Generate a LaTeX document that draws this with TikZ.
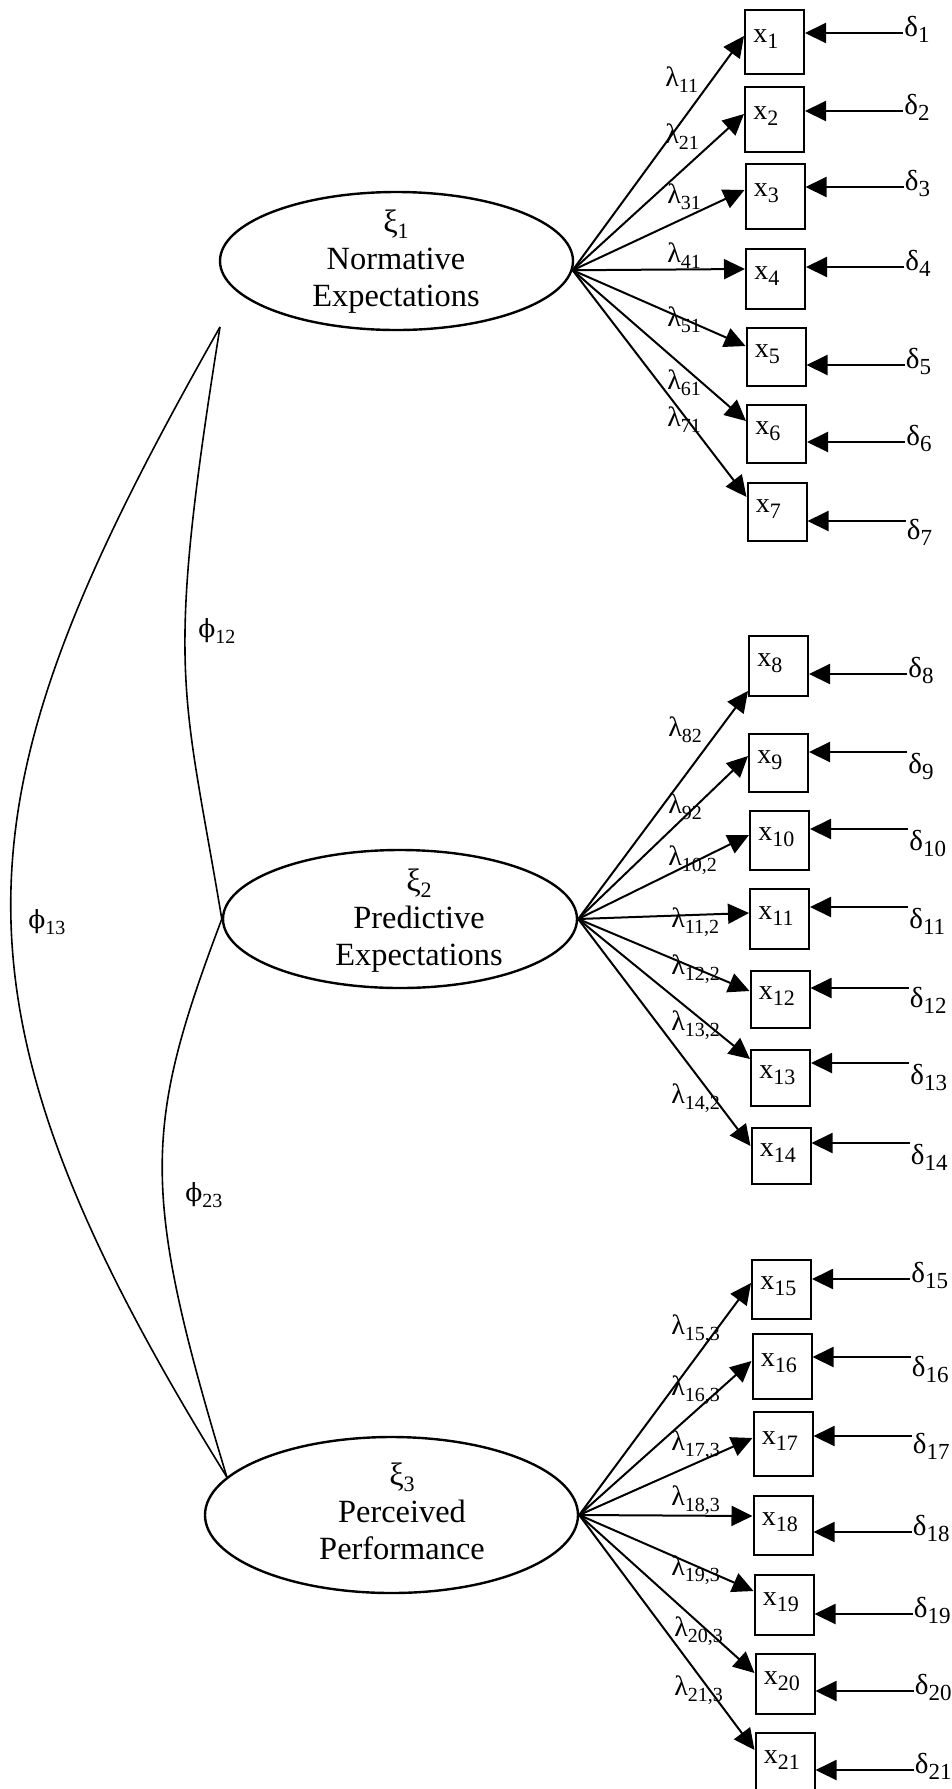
\documentclass[tikz,border=0pt]{standalone}
\usepackage{fontspec}
\setmainfont{Liberation Serif}
\newfontfamily\grk{DejaVu Serif}
\usetikzlibrary{arrows.meta,calc,shapes.geometric}

% lowered subscript in a smaller size
\newcommand\lsub[2][10]{\raisebox{-3pt}{\fontsize{#1}{#1}\selectfont #2}}

% #1 index, #2 centre x, #3 centre y, #4 height (pt)
\newcommand\indicator[4]{%
  \node[obs, minimum height=#4pt] (x#1) at (#2,#3) {};
  \node[obstext] (xl#1) at ($(x#1.west)+(9,0)$) {x\lsub[11]{#1}};
}
% #1 factor point, #2 indicator, #3 drop below box top (px), #4 label x, #5 label y, #6 label
\newcommand\loading[6]{%
  \draw[load] (#1) -- ($(x#2.north west)+(0,#3)$);
  \node[lam] (lam#2) at (#4,#5) {λ\lsub{#6}};
}
% #1 indicator, #2 line drop below box top (px), #3 label baseline below line (px)
\newcommand\uniq[3]{%
  \coordinate (s#1) at ($(x#1.north east)+(98,#2)$);
  \draw[load] (s#1) -- (s#1 -| x#1.east);
  \node[dlab] (d#1) at ($(s#1)+(1,#3)$) {δ\lsub[11.5]{#1}};
}

\begin{document}
\begin{tikzpicture}[x=0.5pt,y=-0.5pt,
  latent/.style={draw, ellipse, line width=1.2pt, inner sep=0pt},
  lattext/.style={align=center, inner sep=0pt, font=\fontsize{16.2}{18.5}\selectfont},
  obs/.style={draw, rectangle, line width=1pt, minimum width=29.5pt, inner sep=0pt},
  obstext/.style={anchor=base west, inner sep=0pt, font=\fontsize{14}{14}\selectfont},
  load/.style={line width=1pt, -{Triangle[length=10.5pt,width=10pt]}},
  cov/.style={line width=0.8pt},
  lam/.style={anchor=west, inner sep=0pt, font=\fontsize{14}{14}\selectfont},
  dlab/.style={anchor=base west, inner sep=0pt, font=\fontsize{14.5}{14.5}\selectfont},
  phil/.style={anchor=west, inner sep=0pt, font=\fontsize{14}{14}\selectfont},
]
\useasboundingbox (0,0) rectangle (952,1789);
\clip (0,0) rectangle (952,1789);

% ---------- latent factors ----------
\node[latent, minimum width=176.5pt, minimum height=69pt] (e1) at (396.5,261) {};
\node[latent, minimum width=177pt, minimum height=69pt] (e2) at (400,919) {};
\node[latent, minimum width=186.5pt, minimum height=78pt] (e3) at (391.5,1515) {};
\node[lattext] (t1) at (396,262) {ξ\lsub[11]{1}\\Normative\\Expectations};
\node[lattext] (t2) at (419,921) {ξ\lsub[11]{2}\\Predictive\\Expectations};
\node[lattext] (t3) at (402,1511) {ξ\lsub[11]{3}\\Perceived\\Performance};

\coordinate (f1) at (e1.-3);
\coordinate (f2) at (e2.east);
\coordinate (f3) at (e3.east);

% ---------- factor covariances ----------
\coordinate (apex) at (220,327);
\coordinate (j3) at (e3.167);
\draw[cov] (apex) .. controls (164,677) and (183,686) .. (e2.west);
\draw[cov] (apex) .. controls (-44,793) and (-76,989) .. (j3);
\draw[cov] (e2.west) .. controls (143,1128) and (140,1190) .. (j3);
\node[phil] (p12) at (198,631) {{\grk\fontsize{12.5}{12.5}\selectfont ϕ}\lsub{12}};
\node[phil] (p13) at (28,922) {{\grk\fontsize{12.5}{12.5}\selectfont ϕ}\lsub{13}};
\node[phil] (p23) at (185,1195) {{\grk\fontsize{12.5}{12.5}\selectfont ϕ}\lsub{23}};

% ---------- indicators ----------
\indicator{1}{774.5}{42}{32}
\indicator{2}{774.5}{119.5}{32.5}
\indicator{3}{775}{196.5}{32.5}
\indicator{4}{775.5}{279}{30}
\indicator{5}{776}{357}{29}
\indicator{6}{776.5}{434}{29}
\indicator{7}{777}{512}{29}
\indicator{8}{778.5}{666}{30}
\indicator{9}{778.5}{763}{29}
\indicator{10}{779.5}{840.5}{29.5}
\indicator{11}{779.5}{919}{30}
\indicator{12}{780}{999.5}{28.5}
\indicator{13}{780.5}{1078}{28}
\indicator{14}{781}{1156}{28}
\indicator{15}{781.5}{1289.5}{29.5}
\indicator{16}{782}{1366.5}{32.5}
\indicator{17}{783}{1444}{32}
\indicator{18}{783}{1525.5}{29.5}
\indicator{19}{784}{1605}{30}
\indicator{20}{785}{1684}{30}
\indicator{21}{785}{1763}{30}

% ---------- loadings ----------
\loading{f1}{1}{27}{665}{80}{11}
\loading{f1}{2}{28}{665}{137}{21}
\loading{f1}{3}{27}{667}{197}{31}
\loading{f1}{4}{21}{667}{256}{41}
\loading{f1}{5}{19}{667}{320}{51}
\loading{f1}{6}{17}{667}{383}{61}
\loading{f1}{7}{15}{667}{420}{71}
\loading{f2}{8}{56}{668}{730}{82}
\loading{f2}{9}{23}{668}{807}{92}
\loading{f2}{10}{25}{668}{860}{10,2}
\loading{f2}{11}{25}{671}{922}{11,2}
\loading{f2}{12}{21}{671}{969}{12,2}
\loading{f2}{13}{10}{671}{1025}{13,2}
\loading{f2}{14}{19}{671}{1098}{14,2}
\loading{f3}{15}{24}{671}{1329}{15,3}
\loading{f3}{16}{28}{671}{1390}{16,3}
\loading{f3}{17}{27}{671}{1445}{17,3}
\loading{f3}{18}{21}{671}{1500}{18,3}
\loading{f3}{19}{17}{671}{1570}{19,3}
\loading{f3}{20}{20}{674}{1631}{20,3}
\loading{f3}{21}{18}{674}{1690}{21,3}

% ---------- measurement errors ----------
\uniq{1}{24}{3}
\uniq{2}{25}{3}
\uniq{3}{24}{3}
\uniq{4}{19}{3}
\uniq{5}{38}{3}
\uniq{6}{38}{3}
\uniq{7}{39}{18}
\uniq{8}{39}{3}
\uniq{9}{19}{21}
\uniq{10}{19}{21}
\uniq{11}{19}{21}
\uniq{12}{18}{19}
\uniq{13}{14}{21}
\uniq{14}{16}{21}
\uniq{15}{20}{3}
\uniq{16}{24}{19}
\uniq{17}{25}{17}
\uniq{18}{37}{3}
\uniq{19}{40}{3}
\uniq{20}{38}{3}
\uniq{21}{38}{3}
\end{tikzpicture}
\end{document}
